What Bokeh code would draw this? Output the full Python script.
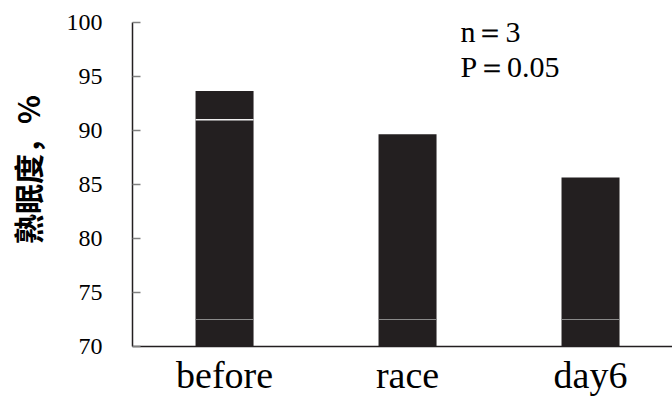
from bokeh.plotting import figure
from bokeh.models import Range1d, FixedTicker, Label
from bokeh.embed import file_html
from bokeh.resources import INLINE

# ---- data ----
categories = ["before", "race", "day6"]
sleep_depth = [93.65, 89.65, 85.65]
lower_marks = [72.5, 72.5, 72.5]
upper_mark_cats = ["before"]
upper_marks = [91.0]
y_ticks = [70, 75, 80, 85, 90, 95, 100]
note_lines = ["n\uff1d3", "P\uff1d0.05"]

xs = list(range(len(categories)))
bar_w = 0.317

p = figure(width=672, height=401, output_backend="svg", toolbar_location=None,
           x_range=Range1d(-0.503, 2.448), y_range=Range1d(70, 100),
           min_border_left=132, min_border_top=22, min_border_bottom=55,
           min_border_right=0)
p.outline_line_color = None
p.xgrid.visible = False
p.ygrid.visible = False
p.background_fill_color = "white"
p.border_fill_color = "white"

p.vbar(x=xs, bottom=70, top=sleep_depth, width=bar_w,
       fill_color="#231f20", line_color=None)

# thin division lines inside bars
p.segment(x0=[x - bar_w / 2 for x in xs], x1=[x + bar_w / 2 for x in xs],
          y0=lower_marks, y1=lower_marks, line_color="#8a8a8a", line_width=1)
ux = [categories.index(c) for c in upper_mark_cats]
p.segment(x0=[x - bar_w / 2 for x in ux], x1=[x + bar_w / 2 for x in ux],
          y0=upper_marks, y1=upper_marks, line_color="#f0f0f0", line_width=1.5)

# x axis
xa = p.xaxis[0]
xa.ticker = FixedTicker(ticks=xs)
xa.major_label_overrides = {i: c for i, c in enumerate(categories)}
xa.major_tick_line_color = None
xa.minor_tick_line_color = None
xa.axis_line_color = "#231f20"
xa.axis_line_width = 1.5
xa.major_label_text_font = "Liberation Serif"
xa.major_label_text_font_size = "38px"
xa.major_label_text_color = "black"
xa.major_label_standoff = 1

# y axis
ya = p.yaxis[0]
ya.ticker = FixedTicker(ticks=y_ticks)
ya.minor_tick_line_color = None
ya.major_tick_in = 8
ya.major_tick_out = 0
ya.major_tick_line_color = "#808080"
ya.major_tick_line_width = 1.5
ya.axis_line_color = "#231f20"
ya.axis_line_width = 1.5
ya.major_label_text_font = "Liberation Serif"
ya.major_label_text_font_size = "24px"
ya.major_label_text_color = "black"
ya.major_label_standoff = 30
ya.axis_label = "\u3000熟眠度，%"
ya.axis_label_text_font = "Noto Sans CJK SC"
ya.axis_label_text_font_style = "bold"
ya.axis_label_text_font_size = "30px"
ya.axis_label_text_color = "black"
ya.axis_label_standoff = 15

# annotation text
for txt, yy in zip(note_lines, [99.2, 95.95]):
    p.add_layout(Label(x=1.289, y=yy, text=txt, text_font="Liberation Serif",
                       text_font_size="30px", text_baseline="alphabetic",
                       text_color="black"))

open("out.html", "w").write(file_html(p, INLINE))
